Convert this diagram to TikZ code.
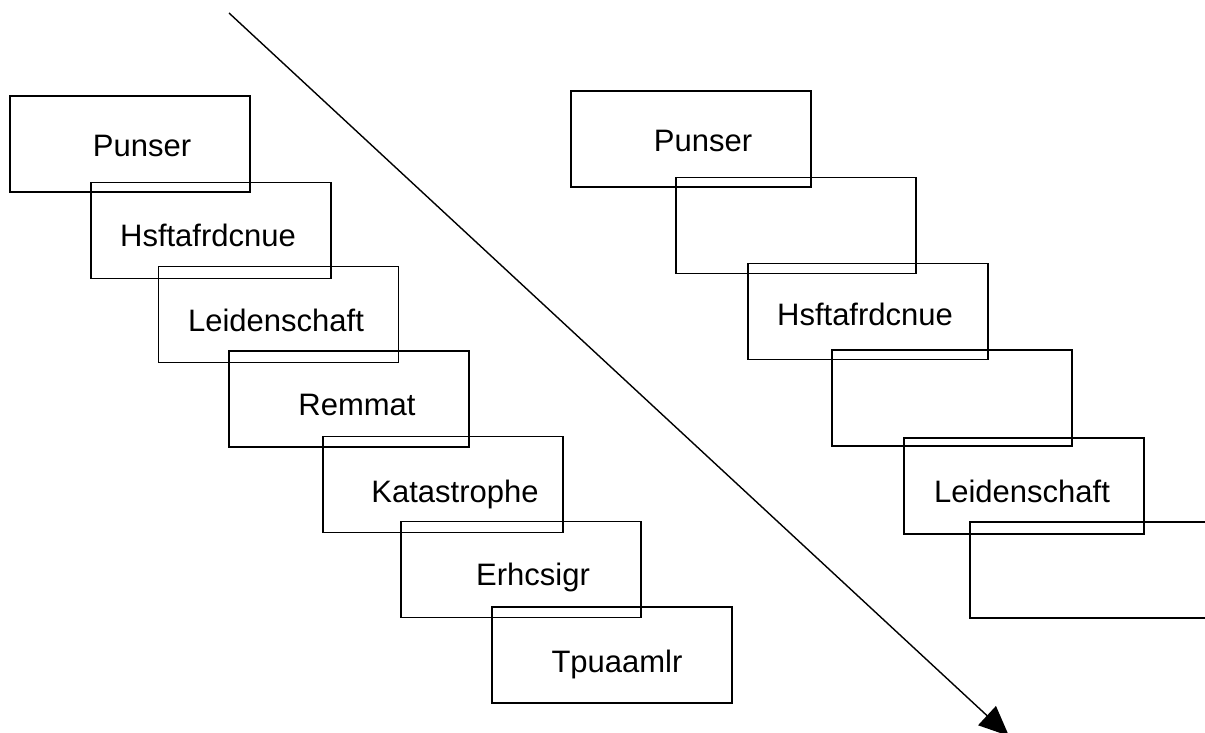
\documentclass[tikz,border=0pt]{standalone}
\usepackage{fontspec}
\setmainfont{Liberation Sans}
\usetikzlibrary{arrows.meta}
\begin{document}
\begin{tikzpicture}[x=1pt,y=-1pt,
  box/.style={draw=black,line width=1.1pt,rectangle,minimum width=240pt,minimum height=96pt,inner sep=0pt},
  lbl/.style={anchor=base,inner sep=0pt,font=\fontsize{31}{37}\selectfont}]
\useasboundingbox (0,0) rectangle (1205,733);
\clip (0,0) rectangle (1205,733);
% left column
\node[box] (l1) at (130,144) {};
\node[box] (l2) at (211,230.5) {};
\node[box] (l3) at (278.5,314.5) {};
\node[box] (l4) at (349,399) {};
\node[box] (l5) at (443,484.5) {};
\node[box] (l6) at (521,569.5) {};
\node[box] (l7) at (612,655) {};
\node[lbl] (t1) at (142,157) {Punser};
\node[lbl] (t2) at (208,246) {Hsftafrdcnue};
\node[lbl] (t3) at (276,331) {Leidenschaft};
\node[lbl] (t4) at (357,415) {Remmat};
\node[lbl] (t5) at (455,502) {Katastrophe};
\node[lbl] (t6) at (533,585) {Erhcsigr};
\node[lbl] (t7) at (617,672) {Tpuaamlr};
% right column
\node[box] (r1) at (691,139) {};
\node[box] (r2) at (796,225.5) {};
\node[box] (r3) at (868,311.5) {};
\node[box] (r4) at (952,398) {};
\node[box] (r5) at (1024,486) {};
\node[box] (r6) at (1090,570) {};
\node[lbl] (s1) at (703,152) {Punser};
\node[lbl] (s3) at (865,325) {Hsftafrdcnue};
\node[lbl] (s5) at (1022,502) {Leidenschaft};
% arrow
\coordinate (a0) at (229,13);
\coordinate (a1) at (1009,736);
\draw[line width=1.4pt,-{Triangle[length=30pt,width=26pt]}] (a0) -- (a1);
\end{tikzpicture}
\end{document}
